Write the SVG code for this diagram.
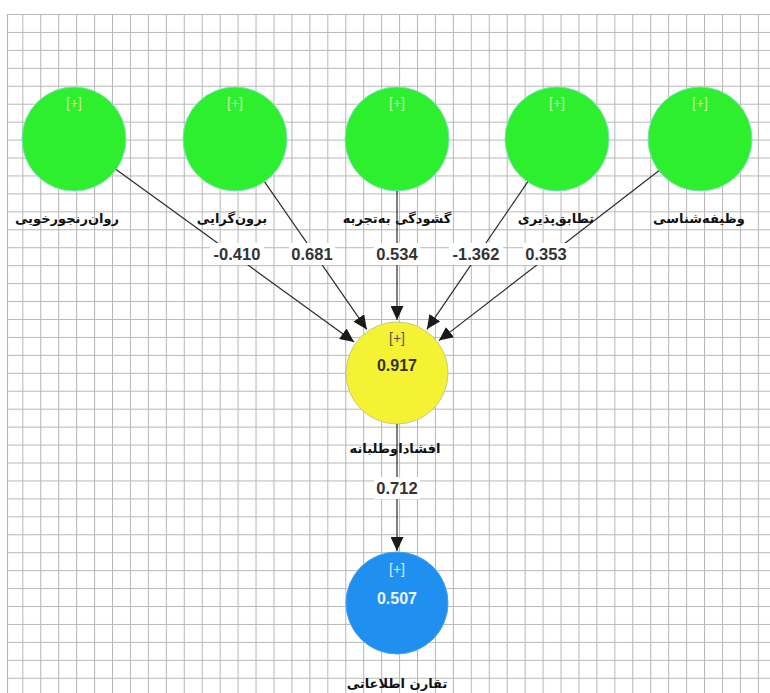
<svg xmlns="http://www.w3.org/2000/svg" width="770" height="693" viewBox="0 0 770 693">
<style>
.lbl{font-family:"DejaVu Sans","Noto Sans",sans-serif;font-weight:bold;font-size:13px;fill:#111;text-anchor:middle}
.plus{font-family:"Liberation Sans",Arial,sans-serif;font-size:14px;text-anchor:middle}
.val{font-family:"Liberation Sans",Arial,sans-serif;font-weight:bold;font-size:16px;text-anchor:middle}
.edge{stroke:#2a2a2a;stroke-width:1.2;fill:none;marker-end:url(#arr)}
.elbl{font-family:"Liberation Sans",Arial,sans-serif;font-weight:bold;font-size:16.5px;fill:#333;text-anchor:middle}
.green{fill:#2def2d;stroke:#7fe0c0;stroke-width:1}
</style>
<defs>
<pattern id="grid" patternUnits="userSpaceOnUse" x="4.36" y="14" width="17.94" height="17.94">
<path d="M0,0.5 H17.94 M0.5,0 V17.94" stroke="#b8b8b8" stroke-width="1.1" fill="none"/>
</pattern>
<marker id="arr" markerUnits="userSpaceOnUse" markerWidth="15" markerHeight="13" refX="14" refY="6.5" orient="auto">
<path d="M0,0 L14,6.5 L0,13 z" fill="#1a1a1a"/>
</marker>
</defs>
<rect width="770" height="693" fill="#ffffff"/>
<rect x="7" y="14" width="763" height="679" fill="url(#grid)"/>
<line x1="7.5" y1="14" x2="7.5" y2="693" stroke="#b8b8b8" stroke-width="1.1"/>

<g id="node-ravanranjurkhuyi">
<circle class="green" cx="74" cy="139" r="52"/>
<text class="plus" x="74" y="108" fill="#c8f0a0">[+]</text>
<text class="lbl" x="67" y="223">روان‌رنجورخویی</text>
</g>
<g id="node-borungarayi">
<circle class="green" cx="235" cy="139" r="52"/>
<text class="plus" x="235" y="108" fill="#c8f0a0">[+]</text>
<text class="lbl" x="232" y="223">برون‌گرایی</text>
</g>
<g id="node-goshudegi">
<circle class="green" cx="397" cy="139" r="52"/>
<text class="plus" x="397" y="108" fill="#c8f0a0">[+]</text>
<text class="lbl" x="397" y="223">گشودگی به‌تجربه</text>
</g>
<g id="node-tatabogh">
<circle class="green" cx="557" cy="139" r="52"/>
<text class="plus" x="557" y="108" fill="#c8f0a0">[+]</text>
<text class="lbl" x="556" y="223">تطابق‌پذیری</text>
</g>
<g id="node-vazifeshenasi">
<circle class="green" cx="700" cy="139" r="52"/>
<text class="plus" x="700" y="108" fill="#c8f0a0">[+]</text>
<text class="lbl" x="699" y="223">وظیفه‌شناسی</text>
</g>
<g id="node-efsha">
<circle cx="397" cy="373" r="51" fill="#f5f233" stroke="#c9c98a" stroke-width="1"/>
<text class="plus" x="397" y="343" fill="#555">[+]</text>
<text class="val" x="397" y="371" fill="#333">0.917</text>
<text class="lbl" x="395" y="453">افشاداوطلبانه</text>
</g>
<g id="node-tagharon">
<circle cx="397" cy="603" r="51" fill="#1f8ff0" stroke="#4aa0e8" stroke-width="1"/>
<text class="plus" x="397" y="574" fill="#d8ecff">[+]</text>
<text class="val" x="397" y="604" fill="#eef6ff">0.507</text>
<text class="lbl" x="397" y="688">تقارن اطلاعاتی</text>
</g>

<g id="connectors">
<line class="edge" x1="116.1" y1="169.5" x2="354.1" y2="341.9"/>
<line class="edge" x1="264.6" y1="181.8" x2="366.8" y2="329.4"/>
<line class="edge" x1="397" y1="191" x2="397" y2="320"/>
<line class="edge" x1="527.7" y1="181.9" x2="426.9" y2="329.3"/>
<line class="edge" x1="658.8" y1="170.8" x2="438.9" y2="340.6"/>
<line class="edge" x1="397" y1="424" x2="397" y2="551"/>
<g id="edge-labels">
<rect x="210" y="243" width="54" height="22" fill="#fff"/>
<text class="elbl" x="237" y="260">-0.410</text>
<rect x="289" y="243" width="46" height="22" fill="#fff"/>
<text class="elbl" x="312" y="260">0.681</text>
<rect x="374" y="243" width="46" height="22" fill="#fff"/>
<text class="elbl" x="397" y="260">0.534</text>
<rect x="449" y="243" width="54" height="22" fill="#fff"/>
<text class="elbl" x="476" y="260">-1.362</text>
<rect x="523" y="243" width="46" height="22" fill="#fff"/>
<text class="elbl" x="546" y="260">0.353</text>
<rect x="374" y="477" width="46" height="22" fill="#fff"/>
<text class="elbl" x="397" y="494">0.712</text>
</g>
</g>
</svg>
